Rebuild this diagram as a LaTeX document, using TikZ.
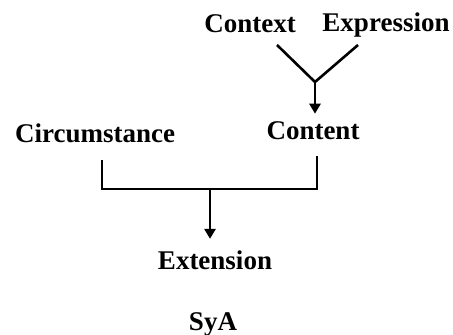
\documentclass[tikz,border=0pt]{standalone}
\usepackage{fontspec}
\setmainfont{Liberation Serif}
\usetikzlibrary{arrows.meta}
\tikzset{
  lbl/.style={anchor=base, inner sep=0pt, font=\fontsize{13.5}{15}\selectfont\bfseries},
  link/.style={line width=1.3pt},
  flow/.style={line width=1.3pt, -{Triangle[width=5.5pt,length=5pt]}}
}
\begin{document}
\begin{tikzpicture}[x=0.5pt, y=-0.5pt]
      \useasboundingbox (0,0) rectangle (453,335);
      \draw
        (250,33) node[lbl] (context){Context}
        (386,32) node[lbl] (expression){Expression}
        (313,140) node[lbl] (content){Content}
        (95,143) node[lbl] (circumstance){Circumstance}
        (215,270) node[lbl] (extension){Extension}
        (213,330) node[lbl] (sya){SyA};
      \coordinate (cx) at (277,45);
      \coordinate (ex) at (358,45);
      \coordinate (v) at (315,82);
      \coordinate (cl) at (102,160);
      \coordinate (cr) at (317,156);
      \coordinate (bl) at (102,189);
      \coordinate (br) at (317,189);
      \coordinate (bm) at (210,189);
      \begin{scope}[link]
        \draw (cx) to (v);
        \draw (ex) to (v);
        \draw (cl) to (bl) to (br) to (cr);
      \end{scope}
      \begin{scope}[flow]
        \draw (v) to ([yshift=4pt]content.north -| v);
        \draw (bm) to ([yshift=6pt]extension.north -| bm);
      \end{scope}
    \end{tikzpicture}
\end{document}
